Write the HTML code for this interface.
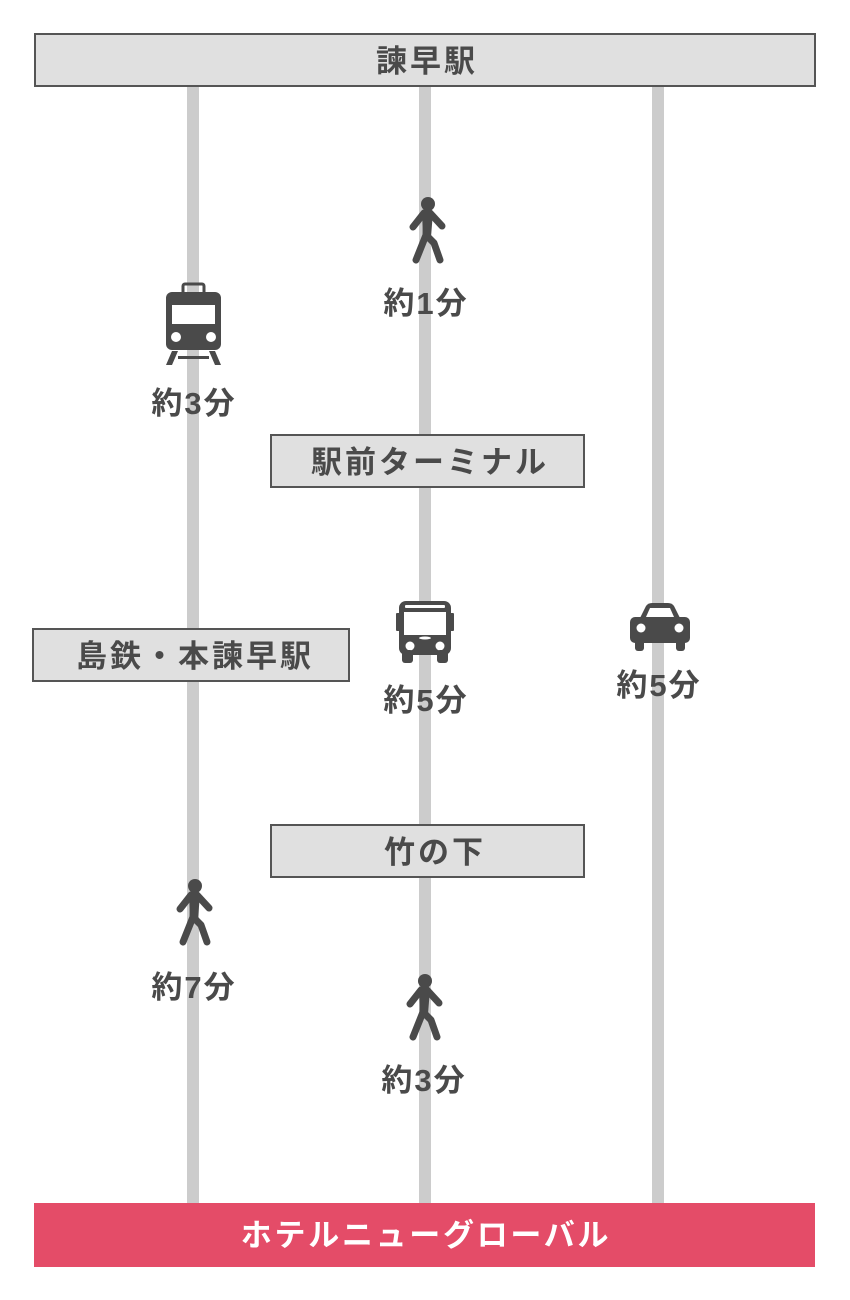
<!DOCTYPE html>
<html><head><meta charset="utf-8"><style>
html,body{margin:0;padding:0;background:#fff;}
svg{display:block}
text{font-family:"Liberation Sans","Noto Sans CJK JP",sans-serif;font-weight:bold;fill:#4a4a4a;text-anchor:middle}
.b{letter-spacing:3px}
.m{letter-spacing:2px}
</style></head><body>
<svg width="850" height="1300" viewBox="0 0 850 1300" xmlns="http://www.w3.org/2000/svg">
<rect x="187" y="86" width="12" height="1120" fill="#cccccc"/>
<rect x="419" y="86" width="12" height="1120" fill="#cccccc"/>
<rect x="652" y="86" width="12" height="1120" fill="#cccccc"/>

<rect x="35" y="34" width="780" height="52" fill="#e0e0e0" stroke="#555" stroke-width="2"/>
<text class="b" x="427" y="72" font-size="31">諫早駅</text>

<rect x="271" y="435" width="313" height="52" fill="#e0e0e0" stroke="#555" stroke-width="2"/>
<text class="b" x="430" y="473" font-size="31">駅前ターミナル</text>

<rect x="33" y="629" width="316" height="52" fill="#e0e0e0" stroke="#555" stroke-width="2"/>
<text class="b" x="195" y="667" font-size="31">島鉄・本諫早駅</text>

<rect x="271" y="825" width="313" height="52" fill="#e0e0e0" stroke="#555" stroke-width="2"/>
<text class="b" x="435" y="863" font-size="31">竹の下</text>

<rect x="34" y="1203" width="781" height="64" fill="#e44c68"/>
<text x="426" y="1246" font-size="31" style="fill:#fff;letter-spacing:2.7px">ホテルニューグローバル</text>

<defs>
<g id="walk">
<circle cx="0" cy="7" r="7" fill="#4a4a4a"/>
<path d="M-4 16 L-15 30 M2 16 L14 29 M-1 16 L-2 38 L-12 63 M-2 38 L6 46 L12 63" stroke="#4a4a4a" stroke-width="7" stroke-linecap="round" stroke-linejoin="round" fill="none"/>
<path d="M-6 15 L5 15 L3 40 L-5 40 Z" fill="#4a4a4a"/>
</g>
</defs>
<use href="#walk" x="428" y="197"/>
<use href="#walk" x="195" y="879"/>
<use href="#walk" x="425" y="974"/>

<g fill="#4a4a4a">
<rect x="183" y="284" width="21" height="10" rx="2" fill="none" stroke="#4a4a4a" stroke-width="3"/>
<rect x="166" y="292" width="55" height="58" rx="6"/>
<rect x="172" y="305" width="43" height="19" fill="#fff"/>
<circle cx="176" cy="337" r="5" fill="#fff"/>
<circle cx="211" cy="337" r="5" fill="#fff"/>
<path d="M172 351 L178 351 L172 365 L166 365 Z M209 351 L215 351 L221 365 L215 365 Z"/>
<rect x="178" y="356" width="31" height="3"/>
</g>

<text class="m" x="426" y="314" font-size="31">約1分</text>
<text class="m" x="194" y="414" font-size="31">約3分</text>

<g fill="#4a4a4a">
<rect x="399" y="601" width="52" height="54" rx="7"/>
<rect x="396" y="613" width="4" height="18" rx="1"/>
<rect x="450" y="613" width="4" height="18" rx="1"/>
<rect x="405" y="605" width="40" height="3" rx="1" fill="#fff"/>
<rect x="404" y="612" width="42" height="23" fill="#fff"/>
<circle cx="410" cy="646" r="4.5" fill="#fff"/>
<circle cx="440" cy="646" r="4.5" fill="#fff"/>
<ellipse cx="425" cy="638" rx="6" ry="1.5" fill="#fff"/>
<rect x="402" y="650" width="11" height="13" rx="3"/>
<rect x="437" y="650" width="11" height="13" rx="3"/>
</g>

<g fill="#4a4a4a">
<path d="M640 618 L646 606 Q648 603 652 603 L668 603 Q672 603 674 606 L680 618 Z"/>
<path d="M646 617 L650 608 L670 608 L674 617 Z" fill="#fff"/>
<rect x="630" y="617" width="60" height="26" rx="5"/>
<circle cx="641" cy="628" r="4.5" fill="#fff"/>
<circle cx="679" cy="628" r="4.5" fill="#fff"/>
<rect x="635" y="640" width="9" height="11" rx="3"/>
<rect x="676" y="640" width="9" height="11" rx="3"/>
</g>

<text class="m" x="426" y="711" font-size="31">約5分</text>
<text class="m" x="659" y="696" font-size="31">約5分</text>
<text class="m" x="194" y="998" font-size="31">約7分</text>
<text class="m" x="424" y="1091" font-size="31">約3分</text>
</svg>
</body></html>
